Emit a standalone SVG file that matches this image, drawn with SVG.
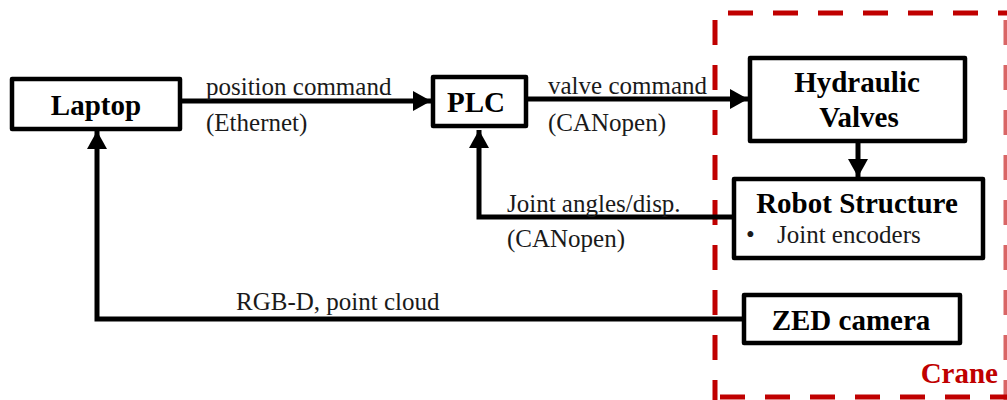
<svg xmlns="http://www.w3.org/2000/svg" width="1007" height="400" viewBox="0 0 1007 400">
<defs>
<style>
.box{fill:#fff;stroke:#000;stroke-width:4.5;stroke-linejoin:round}
.lbl{font-family:"Liberation Serif","Times New Roman",serif;font-size:25px;fill:#1a1a1a}
.bold{font-family:"Liberation Serif","Times New Roman",serif;font-size:29px;font-weight:bold;fill:#000}
.conn{fill:none;stroke:#000;stroke-width:5}
.dash{fill:none;stroke:#c00000;stroke-width:5;stroke-dasharray:25 20}
</style>
<marker id="ah" markerUnits="userSpaceOnUse" markerWidth="18" markerHeight="20" refX="18" refY="10" orient="auto" viewBox="0 0 18 20">
<path d="M0,0 L18,10 L0,20 z" fill="#000"/>
</marker>
</defs>
<rect width="1007" height="400" fill="#fff"/>
<g id="crane">
<path class="dash" d="M715,13 H1007" stroke-dashoffset="32"/>
<path class="dash" d="M715,13 V400" stroke-dashoffset="38"/>
<path class="dash" d="M715,397 H1007" stroke-dashoffset="40"/>
<path class="dash" d="M1006,13 V400" stroke-dashoffset="38" stroke-opacity="0.6"/>
<text class="bold" x="998" y="383" text-anchor="end" style="fill:#c00000">Crane</text>
</g>
<g id="connectors">
<path class="conn" d="M182,101 H431" marker-end="url(#ah)"/>
<path class="conn" d="M528,99 H748" marker-end="url(#ah)"/>
<path class="conn" d="M858,143 V177" marker-end="url(#ah)"/>
<path class="conn" d="M732,217 H479 V130" marker-end="url(#ah)"/>
<path class="conn" d="M742,319 H97 V131" marker-end="url(#ah)"/>
<text class="lbl" x="206" y="95">position command</text>
<text class="lbl" x="206" y="131">(Ethernet)</text>
<text class="lbl" x="548" y="94">valve command</text>
<text class="lbl" x="548" y="131">(CANopen)</text>
<text class="lbl" x="507" y="212">Joint angles/disp.</text>
<text class="lbl" x="507" y="247">(CANopen)</text>
<text class="lbl" x="236" y="310">RGB-D, point cloud</text>
</g>
<g id="laptop">
<rect class="box" x="12" y="79" width="168" height="50"/>
<text class="bold" x="96" y="115" text-anchor="middle">Laptop</text>
</g>
<g id="plc">
<rect class="box" x="433" y="77" width="93" height="49"/>
<text class="bold" x="476" y="112" text-anchor="middle">PLC</text>
</g>
<g id="hydraulic">
<rect class="box" x="750" y="58" width="215" height="83"/>
<text class="bold" x="857" y="92" text-anchor="middle">Hydraulic</text>
<text class="bold" x="859" y="127" text-anchor="middle">Valves</text>
</g>
<g id="robot">
<rect class="box" x="734" y="179" width="249" height="79"/>
<text class="bold" x="857" y="213" text-anchor="middle">Robot Structure</text>
<text class="lbl" x="746" y="243">•</text>
<text class="lbl" x="777" y="243">Joint encoders</text>
</g>
<g id="zed">
<rect class="box" x="744" y="295" width="216" height="48"/>
<text class="bold" x="851" y="330" text-anchor="middle">ZED camera</text>
</g>
</svg>
